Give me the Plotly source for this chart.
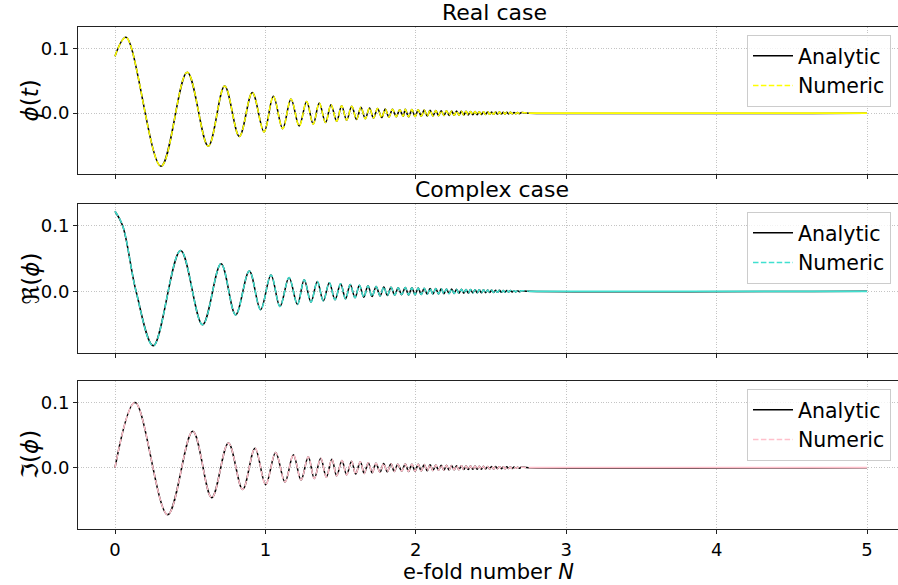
import plotly.graph_objects as go

# ---- data: turning points of the scalar field versus e-fold number N ----
# Real case, phi(t)
real_N = [0.0, 0.073, 0.306, 0.48, 0.62, 0.729, 0.827, 0.913, 0.991, 1.053,
          1.115, 1.17, 1.225, 1.274, 1.318, 1.358, 1.40, 1.436, 1.474, 1.507,
          1.540, 1.574, 1.606, 1.635, 1.664, 1.692, 1.719, 1.746, 1.773, 1.797,
          1.821, 1.845, 1.87, 1.893, 1.916]
real_phi = [0.088, 0.117, -0.082, 0.063, -0.051, 0.042, -0.036, 0.032, -0.029, 0.026,
            -0.024, 0.022, -0.020, 0.018, -0.017, 0.0155, -0.0145, 0.013, -0.0125, 0.0115,
            -0.011, 0.0105, -0.0098, 0.0092, -0.0087, 0.0080, -0.0077, 0.0072, -0.0069, 0.0065,
            -0.0062, 0.0059, -0.0056, 0.0053, -0.0050]

# Complex case, real part
re_N = [0.0, 0.051, 0.140, 0.255, 0.436, 0.582, 0.705, 0.802, 0.893, 0.968, 1.037, 1.097,
        1.157, 1.213, 1.258, 1.303, 1.345, 1.385, 1.425, 1.463, 1.500, 1.533,
        1.564, 1.596, 1.625, 1.654, 1.682, 1.709, 1.736, 1.763, 1.787, 1.811,
        1.835, 1.86, 1.883, 1.906]
re_phi = [0.122, 0.100, 0.0, -0.083, 0.062, -0.051, 0.042, -0.036, 0.031, -0.028, 0.025, -0.023,
          0.021, -0.020, 0.0175, -0.0165, 0.015, -0.0145, 0.013, -0.013, 0.0115, -0.0115,
          0.0105, -0.0100, 0.0094, -0.0090, 0.0083, -0.0080, 0.0075, -0.0071, 0.0067, -0.0064,
          0.0060, -0.0057, 0.0054, -0.0051]

# Complex case, imaginary part
im_N = [0.0, 0.133, 0.35, 0.517, 0.643, 0.754, 0.849, 0.931, 1.002, 1.068,
        1.130, 1.186, 1.237, 1.285, 1.325, 1.368, 1.405, 1.442, 1.474, 1.509,
        1.540, 1.573, 1.600, 1.631, 1.657, 1.684, 1.71, 1.735, 1.762, 1.786,
        1.81, 1.835, 1.857, 1.88, 1.906]
im_phi = [0.0, 0.100, -0.072, 0.056, -0.046, 0.038, -0.0335, 0.030, -0.026, 0.0235,
          -0.022, 0.020, -0.019, 0.017, -0.0165, 0.0145, -0.0145, 0.013, -0.0125, 0.0112,
          -0.011, 0.0100, -0.0098, 0.0090, -0.0088, 0.0078, -0.0078, 0.0070, -0.0070, 0.0064,
          -0.0063, 0.0059, -0.0058, 0.0054, -0.0051]

# Late-time ringing, which dies out after N ~ 2.7 (common to all fields)
tail_N = [1.93, 1.952, 1.974, 1.995, 2.016, 2.036, 2.056, 2.076, 2.095, 2.114,
          2.133, 2.151, 2.169, 2.187, 2.204, 2.221, 2.238, 2.255, 2.271, 2.287,
          2.303, 2.319, 2.334, 2.349, 2.364, 2.379, 2.394, 2.408, 2.422, 2.436,
          2.45, 2.464, 2.478, 2.491, 2.504, 2.517, 2.53, 2.543, 2.556, 2.569,
          2.581, 2.593, 2.605, 2.617, 2.629, 2.641, 2.653, 2.665, 2.677, 2.689,
          2.70, 2.75]
tail_phi = [0.0058, -0.0057, 0.0055, -0.0054, 0.0052, -0.0050, 0.0048, -0.0046, 0.0044, -0.0043,
            0.0041, -0.0040, 0.0038, -0.0037, 0.0036, -0.0035, 0.0034, -0.0033, 0.0032, -0.0031,
            0.0030, -0.0029, 0.0028, -0.0027, 0.0026, -0.0025, 0.0025, -0.0024, 0.0023, -0.0022,
            0.0022, -0.0021, 0.0020, -0.0019, 0.0019, -0.0018, 0.0017, -0.0016, 0.0016, -0.0015,
            0.0014, -0.0014, 0.0013, -0.0012, 0.0012, -0.0011, 0.0010, -0.0009, 0.0009, -0.0008,
            0.0007, 0.0]

# Settled field from N = 2.75 to the end of the run
rest_N = [2.75, 5.0]
rest_phi = [0.0, 0.0]

x_ticks = [0, 1, 2, 3, 4, 5]
y_ticks = [0.0, 0.1]

FONT = "DejaVu Sans"
W, H = 898, 585
L, R, T, B = 78, 0, 27, 56
plot_h = H - T - B

def py(pix):
    """pixel row (from top of page) -> paper y"""
    return (H - B - pix) / plot_h

def px(pix):
    return (pix - L) / (W - L - R)

panels = [
    dict(N=real_N, v=real_phi, color="yellow", ylab="<i>ϕ</i>(<i>t</i>)",
         dom=[py(174), 1.0], legend="legend", ltop=35),
    dict(N=re_N, v=re_phi, color="turquoise", ylab="ℜ(<i>ϕ</i>)",
         dom=[py(353), py(204)], legend="legend2", ltop=212),
    dict(N=im_N, v=im_phi, color="pink", ylab="ℑ(<i>ϕ</i>)",
         dom=[0.0, py(381)], legend="legend3", ltop=389),
]

fig = go.Figure()
layout = {}
annotations = []

GRID = dict(showgrid=True, gridcolor="#c4c4c4", griddash="1px,1.6px", gridwidth=1)
FRAME = dict(showline=True, linecolor="#222", linewidth=1, mirror=True,
             ticks="outside", ticklen=4, tickwidth=1, tickcolor="#222",
             zeroline=False, tickfont=dict(family=FONT, size=18, color="black"))

for i, p in enumerate(panels, start=1):
    sfx = "" if i == 1 else str(i)
    ax = dict(xaxis="x" + sfx, yaxis="y" + sfx, legend=p["legend"])
    xs = p["N"] + tail_N
    ys = p["v"] + tail_phi
    # analytic solution
    fig.add_trace(go.Scatter(
        x=xs + rest_N[1:], y=ys + rest_phi[1:], mode="lines", name="Analytic",
        line=dict(color="black", width=1.5, shape="spline", smoothing=1.0),
        legendgroup=f"a{i}", **ax))
    # numerical solution (dashed), settled part drawn as a continuous stroke
    fig.add_trace(go.Scatter(
        x=rest_N, y=rest_phi, mode="lines", showlegend=False, hoverinfo="skip",
        line=dict(color=p["color"], width=1.8), legendgroup=f"n{i}", **ax))
    fig.add_trace(go.Scatter(
        x=xs, y=ys, mode="lines", name="Numeric",
        line=dict(color=p["color"], width=1.5, dash="5.5px,2.4px",
                  shape="spline", smoothing=1.0),
        legendgroup=f"n{i}", **ax))

    layout["xaxis" + sfx] = dict(
        domain=[0, 1], anchor="y" + sfx, range=[-0.246, 5.206],
        tickvals=x_ticks, showticklabels=(i == 3), **GRID, **FRAME)
    layout["yaxis" + sfx] = dict(
        domain=p["dom"], anchor="x" + sfx, range=[-0.094, 0.133],
        tickvals=y_ticks, tickformat=".1f", **GRID, **FRAME)
    layout[p["legend"]] = dict(
        x=px(891), xanchor="right", y=py(p["ltop"]), yanchor="top",
        bgcolor="rgba(255,255,255,0.8)", bordercolor="#cccccc", borderwidth=1,
        font=dict(family=FONT, size=20.5, color="black"), tracegroupgap=0,
        itemwidth=40)
    annotations.append(dict(
        text=p["ylab"], x=px(30), y=(p["dom"][0] + p["dom"][1]) / 2,
        xref="paper", yref="paper", xanchor="center", yanchor="middle",
        textangle=-90, showarrow=False, font=dict(family=FONT, size=23, color="black")))

TITLE_FONT = dict(family=FONT, size=22, color="black")
annotations.append(dict(text="Real case", x=px(494), y=1.0, xref="paper", yref="paper",
                        xanchor="center", yanchor="bottom", yshift=0, showarrow=False,
                        font=TITLE_FONT))
annotations.append(dict(text="Complex case", x=px(492), y=panels[1]["dom"][1],
                        xref="paper", yref="paper", xanchor="center", yanchor="bottom",
                        yshift=0, showarrow=False, font=TITLE_FONT))
annotations.append(dict(text="e-fold number <i>N</i>", x=px(488), y=py(572),
                        xref="paper", yref="paper", xanchor="center", yanchor="middle",
                        showarrow=False, font=dict(family=FONT, size=21, color="black")))

fig.update_layout(
    width=W, height=H, margin=dict(l=L, r=R, t=T, b=B),
    paper_bgcolor="white", plot_bgcolor="white",
    annotations=annotations, **layout)

fig.write_html("out.html")
